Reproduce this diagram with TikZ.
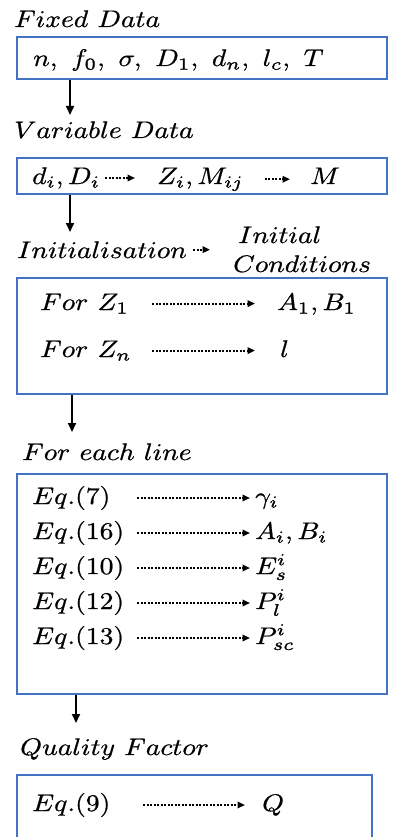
\documentclass[tikz,border=0pt]{standalone}
\usepackage{amsmath,amssymb}
\usepackage{xcolor}
\usepackage{graphicx}
\usepackage{tikz}
\usetikzlibrary{arrows.meta,positioning}
\definecolor{boxblue}{RGB}{68,114,196}
\newcommand{\wtxt}[1]{\scalebox{2.76}[2.4]{\special{pdf:code 2 Tr 0.07 w}$#1$\special{pdf:code 0 Tr}}}

\begin{document}
\begin{tikzpicture}[
    x=1pt, y=-1pt,
    lbl/.style={anchor=base west, inner sep=0pt},
    eqlbl/.style={lbl, text width=105pt},
    blk/.style={draw=boxblue, line width=2pt, anchor=north west, inner sep=0pt},
    arr/.style={-{Triangle[length=9pt,width=8pt]}, line width=1.8pt},
    dotarr/.style={-{Triangle[length=7.5pt,width=6.5pt]}, line width=2pt, dash pattern=on 2pt off 1.5pt}]
  \useasboundingbox (0,0) rectangle (392,837);

  % fixed data
  \node[lbl] (fixlbl) at (14,27) {\wtxt{Fixed\ Data}};
  \node[blk, minimum width=370pt, minimum height=42pt] (fixbox) at (16,36) {};
  \node[lbl] (fixtxt) at (33,66) {\wtxt{n,\ f_0,\ \sigma,\ D_1,\ d_n,\ l_c,\ T}};
  \coordinate (a1) at (70,115);
  \draw[arr] (fixbox.south -| a1) -- (a1);

  % variable data
  \node[lbl] (varlbl) at (14,138) {\wtxt{Variable\ Data}};
  \node[blk, minimum width=370pt, minimum height=36pt] (varbox) at (16,157) {};
  \node[lbl] (vd) at (32,184) {\wtxt{d_i, D_i}};
  \node[lbl] (vz) at (157,184) {\wtxt{Z_i, M_{ij}}};
  \node[lbl] (vm) at (310,184) {\wtxt{M}};
  \draw[dotarr, shorten <=5pt, shorten >=22pt] (vd.east) -- (vd.east -| vz.west);
  \draw[dotarr, shorten <=21pt, shorten >=20pt] (vz.east) -- (vz.east -| vm.west);
  \coordinate (a2) at (70,232);
  \draw[arr] (varbox.south -| a2) -- (a2);

  % initialisation
  \node[lbl] (initlbl) at (17,258) {\wtxt{Initialisation}};
  \node[lbl] (ini1) at (238,243) {\wtxt{Initial}};
  \node[lbl] (ini2) at (233,272) {\wtxt{Conditions}};
  \draw[dotarr, shorten <=6pt, shorten >=23pt] (initlbl.east) -- (initlbl.east -| ini2.west);
  \node[blk, minimum width=370pt, minimum height=116pt] (initbox) at (16,277) {};
  \node[lbl, text width=112pt] (for1) at (40,310) {\wtxt{For\ Z_1}};
  \node[lbl] (ab1) at (277,310) {\wtxt{A_1, B_1}};
  \node[lbl, text width=112pt] (forn) at (40,357) {\wtxt{For\ Z_n}};
  \node[lbl] (ln) at (280,357) {\wtxt{l}};
  \draw[dotarr, shorten >=22pt] (for1.east) -- (for1.east -| ab1.west);
  \draw[dotarr, shorten >=25pt] (forn.east) -- (forn.east -| ln.west);
  \coordinate (a3) at (72,432);
  \draw[arr] (initbox.south -| a3) -- (a3);

  % each line
  \node[lbl] (linelbl) at (22,460) {\wtxt{For\ each\ line}};
  \node[blk, minimum width=370pt, minimum height=220pt] (linebox) at (16,473) {};
  \foreach \eq/\res [count=\k] in {7/\gamma_i, 16/{A_i, B_i}, 10/E_s^i, 12/P_l^i, 13/P_{sc}^i} {
    \node[eqlbl] (eq\k) at (32,{504+35*(\k-1)}) {\wtxt{Eq.(\eq)}};
    \node[lbl] (res\k) at (255,{504+35*(\k-1)}) {\wtxt{\res}};
    \draw[dotarr, shorten >=5pt] (eq\k.east) -- (eq\k.east -| res\k.west);
  }
  \coordinate (a4) at (76,723);
  \draw[arr] (linebox.south -| a4) -- (a4);

  % quality factor
  \node[lbl] (qlbl) at (20,755) {\wtxt{Quality\ Factor}};
  \node[blk, minimum width=355pt, minimum height=80pt] (qbox) at (16,774) {};
  \node[lbl, text width=111pt] (eq9) at (32,811) {\wtxt{Eq.(9)}};
  \node[lbl] (qres) at (262,811) {\wtxt{Q}};
  \draw[dotarr, shorten >=17pt] (eq9.east) -- (eq9.east -| qres.west);
\end{tikzpicture}
\end{document}
